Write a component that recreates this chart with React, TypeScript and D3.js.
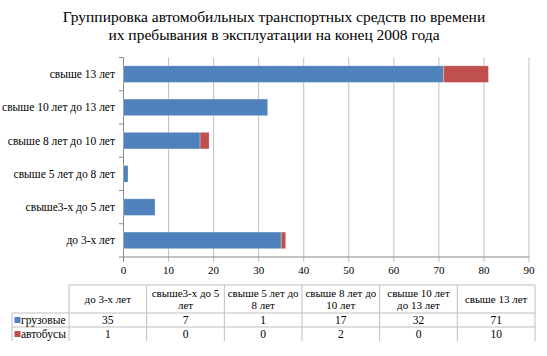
import React from "react";
import * as d3 from "d3";

const categories = [
  "до 3-х лет",
  "свыше3-х до 5 лет",
  "свыше 5 лет до 8 лет",
  "свыше 8 лет до 10 лет",
  "свыше 10 лет до 13 лет",
  "свыше 13 лет",
];
const tableHeaders = [
  ["до 3-х лет"],
  ["свыше3-х до 5", "лет"],
  ["свыше 5 лет до", "8 лет"],
  ["свыше 8 лет до", "10 лет"],
  ["свыше 10 лет", "до 13 лет"],
  ["свыше 13 лет"],
];
const trucks = [35, 7, 1, 17, 32, 71];
const buses = [1, 0, 0, 2, 0, 10];
const seriesNames = ["грузовые", "автобусы"];
const colors = ["#4F81BD", "#C0504D"];
const xTicks = [0, 10, 20, 30, 40, 50, 60, 70, 80, 90];
const titleLines = [
  "Группировка автомобильных транспортных средств по времени",
  "их пребывания в эксплуатации на конец 2008 года",
];

export default function App() {
  const W = 547, H = 356;
  const font = '"Times New Roman", Tinos, "Liberation Serif", "DejaVu Serif", "Noto Serif", FreeSerif, serif';
  const x = d3.scaleLinear().domain([0, 90]).range([123.5, 529]);
  const y = d3
    .scaleBand<string>()
    .domain([...categories].reverse())
    .range([57.5, 257])
    .paddingInner(0.5)
    .paddingOuter(0.25);

  const stack = d3
    .stack<any>()
    .keys(["t", "b"])(categories.map((c, i) => ({ c, t: trucks[i], b: buses[i] })));

  const colX = d3.range(7).map((i) => 69 + (i * (535 - 69)) / 6);
  const tTop = 285, hBot = 313, r1 = 327, r2 = 341;
  const ts = { fontFamily: font };

  return (
    <svg
      width={W}
      height={H}
      style={{ position: "absolute", left: 0, top: 0, background: "#fff", fontFamily: font }}
    >
      <rect width={W} height={H} fill="#fff" />
      {titleLines.map((t, i) => (
        <text key={i} style={ts} x={274} y={22 + i * 18} textAnchor="middle" fontSize={15.5} fill="#000">
          {t}
        </text>
      ))}
      {xTicks.map((t) => (
        <g key={t}>
          <line
            x1={x(t)}
            x2={x(t)}
            y1={57.5}
            y2={262}
            stroke={t === 0 ? "#888" : "#BFBFBF"}
            strokeWidth={1}
          />
          <text style={ts} x={x(t)} y={274} textAnchor="middle" fontSize={11} fill="#000">
            {t}
          </text>
        </g>
      ))}
      <line x1={119} x2={529} y1={257} y2={257} stroke="#888" />
      {categories.map((c) => (
        <line key={c} x1={119} x2={123.5} y1={y(c)! - y.step() * 0.25} y2={y(c)! - y.step() * 0.25} stroke="#888" />
      ))}
      {stack.map((s, si) =>
        s.map((d, i) =>
          d[1] - d[0] > 0 ? (
            <rect
              key={si + "-" + i}
              x={x(d[0])}
              y={y(categories[i])}
              width={x(d[1]) - x(d[0])}
              height={y.bandwidth()}
              fill={colors[si]}
              stroke="#fff"
              strokeOpacity={0.35}
              strokeWidth={0.8}
            />
          ) : null
        )
      )}
      {categories.map((c) => (
        <text
          key={c}
          style={ts}
          x={115}
          y={y(c)! + y.bandwidth() / 2 + 4}
          textAnchor="end"
          fontSize={11.5}
          fill="#000"
        >
          {c}
        </text>
      ))}
      {/* data table */}
      <g stroke="#BFBFBF" strokeWidth={1}>
        <line x1={69} x2={535} y1={tTop} y2={tTop} />
        <line x1={12} x2={535} y1={hBot} y2={hBot} />
        <line x1={12} x2={535} y1={r1} y2={r1} />
        {colX.map((cx, i) => (
          <line key={i} x1={cx} x2={cx} y1={tTop} y2={r2} />
        ))}
        <line x1={12} x2={12} y1={hBot} y2={r2} />
      </g>
      {tableHeaders.map((lines, i) => {
        const cx = (colX[i] + colX[i + 1]) / 2;
        const n = lines.length;
        return lines.map((l, j) => (
          <text
            key={i + "-" + j}
            style={ts}
            x={cx}
            y={(tTop + hBot) / 2 + 4 + (j - (n - 1) / 2) * 12}
            textAnchor="middle"
            fontSize={11}
            fill="#000"
          >
            {l}
          </text>
        ));
      })}
      {[trucks, buses].map((vals, si) => {
        const yt = si === 0 ? hBot : r1;
        const yb = si === 0 ? r1 : r2;
        return (
          <g key={si}>
            <rect x={14.5} y={(yt + yb) / 2 - 3} width={6} height={6} fill={colors[si]} />
            <text style={ts} x={21} y={(yt + yb) / 2 + 4} fontSize={11.5} fill="#000">
              {seriesNames[si]}
            </text>
            {vals.map((v, i) => (
              <text
                key={i}
                style={ts}
                x={(colX[i] + colX[i + 1]) / 2}
                y={(yt + yb) / 2 + 4}
                textAnchor="middle"
                fontSize={11.5}
                fill="#000"
              >
                {v}
              </text>
            ))}
          </g>
        );
      })}
    </svg>
  );
}
